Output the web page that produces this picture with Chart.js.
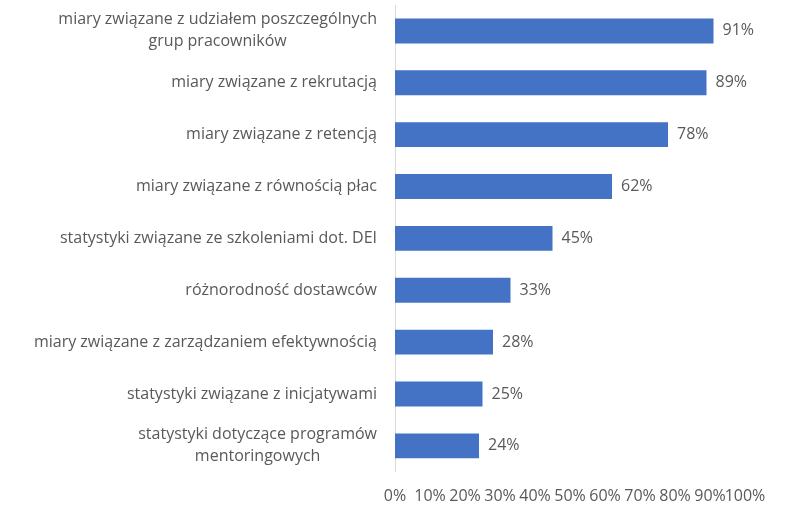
<!DOCTYPE html>
<html>
<head>
<meta charset="utf-8">
<script src="https://cdn.jsdelivr.net/npm/chart.js@4.4.1/dist/chart.umd.min.js"></script>
<style>
  html, body { margin: 0; padding: 0; background: #fff; }
  #wrap { width: 796px; height: 523px; position: relative; }
</style>
</head>
<body>
<div id="wrap"><canvas id="chart"></canvas></div>
<script>
// data
const categories = [
  ["miary związane z udziałem poszczególnych", "grup pracowników"],
  "miary związane z rekrutacją",
  "miary związane z retencją",
  "miary związane z równością płac",
  "statystyki związane ze szkoleniami dot. DEI",
  "różnorodność dostawców",
  "miary związane z zarządzaniem efektywnością",
  "statystyki związane z inicjatywami",
  ["statystyki dotyczące programów", "mentoringowych"]
];
const values = [91, 89, 78, 62, 45, 33, 28, 25, 24];
const xTicks = [0, 10, 20, 30, 40, 50, 60, 70, 80, 90, 100];

const FONT_FAMILY = "'Open Sans', sans-serif";
const FONT_SIZE = 16;
const TEXT = "#595959";
const BAR = "#4472C4";
const LINE_H = 22;

// category labels: right aligned block, lines centred inside the block
const categoryLabels = {
  id: "categoryLabels",
  afterDraw(chart) {
    const ctx = chart.ctx;
    const yScale = chart.scales.y;
    const right = chart.chartArea.left - 18;
    ctx.save();
    ctx.font = `${FONT_SIZE}px ${FONT_FAMILY}`;
    ctx.fillStyle = TEXT;
    ctx.textAlign = "center";
    ctx.textBaseline = "middle";
    categories.forEach((lab, i) => {
      const lines = Array.isArray(lab) ? lab : [lab];
      const w = Math.max(...lines.map(l => ctx.measureText(l).width));
      const cx = right - w / 2;
      const cy = yScale.getPixelForValue(i);
      lines.forEach((l, k) => {
        ctx.fillText(l, cx, cy + (k - (lines.length - 1) / 2) * LINE_H);
      });
    });
    ctx.restore();
  }
};

// value labels at the end of each bar
const valueLabels = {
  id: "valueLabels",
  afterDatasetsDraw(chart) {
    const ctx = chart.ctx;
    ctx.save();
    ctx.font = `${FONT_SIZE}px ${FONT_FAMILY}`;
    ctx.fillStyle = TEXT;
    ctx.textAlign = "left";
    ctx.textBaseline = "middle";
    chart.getDatasetMeta(0).data.forEach((bar, i) => {
      ctx.fillText(values[i] + "%", bar.x + 9, bar.y);
    });
    ctx.restore();
  }
};

new Chart(document.getElementById("chart"), {
  type: "bar",
  data: {
    labels: categories,
    datasets: [{
      data: values,
      backgroundColor: BAR,
      categoryPercentage: 0.96,
      barPercentage: 0.5
    }]
  },
  options: {
    indexAxis: "y",
    responsive: true,
    maintainAspectRatio: false,
    animation: false,
    layout: { padding: { left: 395, right: 51, top: 5, bottom: 2 } },
    plugins: {
      legend: { display: false },
      tooltip: { enabled: false }
    },
    scales: {
      x: {
        min: 0,
        max: 100,
        afterBuildTicks: scale => { scale.ticks = xTicks.map(v => ({ value: v })); },
        grid: { display: false, drawTicks: false },
        border: { display: false },
        ticks: {
          padding: 15,
          color: TEXT,
          font: { family: FONT_FAMILY, size: FONT_SIZE },
          maxRotation: 0,
          autoSkip: false,
          callback: v => v + "%"
        }
      },
      y: {
        grid: { display: false, drawTicks: false },
        border: { display: true, color: "#d9d9d9", width: 1 },
        ticks: { display: false }
      }
    }
  },
  plugins: [categoryLabels, valueLabels]
});
</script>
</body>
</html>
